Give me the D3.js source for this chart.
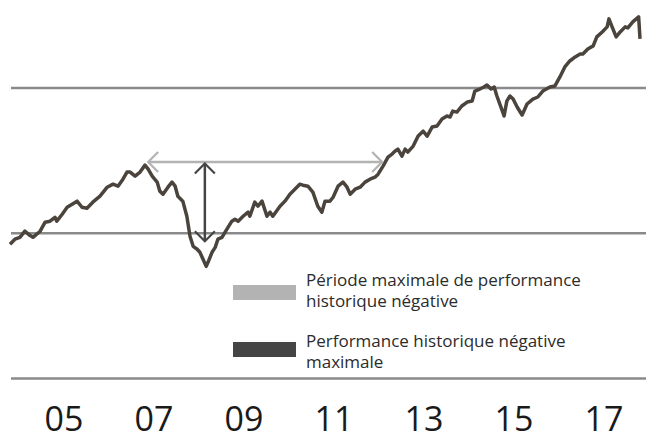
<!DOCTYPE html>
<html lang="fr">
<head>
<meta charset="utf-8">
<title>Performance historique</title>
<script src="https://d3js.org/d3.v7.min.js"></script>
<style>
  body { margin: 0; padding: 0; background: #fff; }
  svg { display: block; font-family: "Open Sans", "Noto Sans", sans-serif; }
</style>
</head>
<body>
<div id="chart"></div>
<script>
// decimal years and index values (gridlines = 100 and 200)
const years = [
  2003.80, 2003.91, 2004.02, 2004.13, 2004.24, 2004.31, 2004.47, 2004.58, 2004.69, 2004.80,
  2004.84, 2004.96, 2005.07, 2005.18, 2005.29, 2005.40, 2005.51, 2005.64, 2005.80, 2005.96,
  2006.09, 2006.20, 2006.31, 2006.40, 2006.47, 2006.58, 2006.69, 2006.80, 2006.87, 2006.96,
  2007.07, 2007.13, 2007.20, 2007.31, 2007.40, 2007.47, 2007.53, 2007.64, 2007.73, 2007.80,
  2007.87, 2007.96, 2008.02, 2008.09, 2008.16, 2008.20, 2008.29, 2008.36, 2008.42, 2008.51,
  2008.62, 2008.73, 2008.80, 2008.87, 2008.98, 2009.09, 2009.13, 2009.24, 2009.31, 2009.40,
  2009.51, 2009.58, 2009.64, 2009.80, 2009.91, 2010.02, 2010.13, 2010.24, 2010.31, 2010.42,
  2010.53, 2010.64, 2010.73, 2010.80, 2010.91, 2010.98, 2011.09, 2011.20, 2011.29, 2011.36,
  2011.47, 2011.58, 2011.69, 2011.80, 2011.91, 2011.98, 2012.09, 2012.20, 2012.29, 2012.36,
  2012.42, 2012.51, 2012.58, 2012.64, 2012.76, 2012.87, 2012.98, 2013.07, 2013.18, 2013.29,
  2013.40, 2013.51, 2013.58, 2013.64, 2013.73, 2013.84, 2013.96, 2014.07, 2014.13, 2014.24,
  2014.33, 2014.40, 2014.49, 2014.56, 2014.62, 2014.71, 2014.78, 2014.84, 2014.91, 2014.98,
  2015.07, 2015.18, 2015.29, 2015.42, 2015.53, 2015.64, 2015.80, 2015.91, 2016.02, 2016.13,
  2016.24, 2016.36, 2016.47, 2016.53, 2016.64, 2016.76, 2016.84, 2016.96, 2017.07, 2017.11,
  2017.18, 2017.27, 2017.36, 2017.47, 2017.53, 2017.64, 2017.77, 2017.80
];
const values = [
  92.4, 95.9, 97.2, 101.4, 98.6, 97.2, 101.4, 107.6, 108.3, 111.0,
  108.3, 113.1, 117.9, 120.0, 122.1, 117.9, 117.2, 121.4, 125.5, 131.7,
  133.8, 132.4, 137.2, 142.1, 142.1, 139.3, 142.1, 146.9, 144.1, 139.3,
  135.2, 129.0, 126.9, 131.7, 135.2, 132.4, 125.5, 122.1, 111.7, 97.9,
  91.0, 89.0, 86.9, 82.1, 77.2, 80.0, 86.9, 90.3, 95.9, 97.2,
  102.8, 108.3, 109.7, 108.3, 111.7, 114.5, 111.7, 121.4, 118.6, 122.1,
  111.7, 114.5, 111.7, 118.6, 122.1, 126.9, 130.3, 133.8, 133.1, 132.4,
  128.3, 118.6, 114.5, 122.1, 122.1, 124.8, 132.4, 135.2, 131.7, 126.9,
  130.3, 131.7, 135.2, 137.2, 138.6, 140.7, 146.2, 152.4, 154.5, 156.6,
  157.9, 153.1, 157.9, 155.9, 160.0, 166.9, 170.3, 166.9, 173.1, 173.8,
  178.6, 180.7, 180.0, 184.1, 183.4, 187.6, 190.3, 191.0, 197.9, 199.3,
  200.7, 202.1, 199.3, 200.7, 194.5, 186.9, 180.7, 191.0, 194.5, 192.4,
  186.9, 181.4, 189.0, 192.4, 193.8, 197.9, 200.7, 201.4, 207.6, 214.5,
  218.6, 221.4, 223.4, 223.4, 226.9, 229.0, 235.2, 238.6, 242.1, 247.6,
  242.1, 235.2, 238.6, 242.1, 241.4, 245.5, 249.0, 233.8
];

const gridValues = [0, 100, 200];
const tickYears = [2005, 2007, 2009, 2011, 2013, 2015, 2017];
const tickLabels = ["05", "07", "09", "11", "13", "15", "17"];

// longest negative period (peak -> recovery) and deepest drawdown
const periodArrow = [2006.87, 2012.07];
const periodLevel = 149;
const drawdownYear = 2008.13;
const drawdownRange = [148, 94.5];

const legendLabels = [
  ["Période maximale de performance", "historique négative"],
  ["Performance historique négative", "maximale"]
];
const legendColors = ["#b3b3b3", "#454545"];

const width = 646, height = 440;

const svg = d3.select("#chart").append("svg")
  .attr("width", width)
  .attr("height", height);

const x = d3.scaleLinear().domain([2003.8, 2017.8]).range([10, 640]);
const y = d3.scaleLinear().domain([0, 200]).range([378.5, 88]);

// gridlines (bottom one doubles as axis line)
svg.selectAll(".grid")
  .data(gridValues)
  .enter().append("line")
  .attr("class", "grid")
  .attr("x1", 11).attr("x2", width)
  .attr("y1", d => y(d)).attr("y2", d => y(d))
  .attr("stroke", "#8a8a8a")
  .attr("stroke-width", 2.5);

// year labels
svg.selectAll(".tick")
  .data(tickYears)
  .enter().append("text")
  .attr("class", "tick")
  .attr("x", d => x(d))
  .attr("y", 431)
  .attr("text-anchor", "middle")
  .attr("font-size", 34)
  .attr("fill", "#1a1a1a")
  .text((d, i) => tickLabels[i]);

// index line
const line = d3.line()
  .x(d => x(d[0]))
  .y(d => y(d[1]));

svg.append("path")
  .datum(years.map((yr, i) => [yr, values[i]]))
  .attr("d", line)
  .attr("fill", "none")
  .attr("stroke", "#4b443d")
  .attr("stroke-width", 3.5)
  .attr("stroke-linejoin", "round");

// arrows
function arrowHead(g, px, py, dir, color) {
  // dir: "left" | "right" | "up" | "down"
  const a = 10;
  let pts;
  if (dir === "left") pts = [[px + a, py - a], [px, py], [px + a, py + a]];
  if (dir === "right") pts = [[px - a, py - a], [px, py], [px - a, py + a]];
  if (dir === "up") pts = [[px - a, py + a], [px, py], [px + a, py + a]];
  if (dir === "down") pts = [[px - a, py - a], [px, py], [px + a, py - a]];
  g.append("path")
    .attr("d", d3.line()(pts))
    .attr("fill", "none")
    .attr("stroke", color)
    .attr("stroke-width", 2.2);
}

const hArrow = svg.append("g");
hArrow.append("line")
  .attr("x1", x(periodArrow[0])).attr("x2", x(periodArrow[1]))
  .attr("y1", y(periodLevel)).attr("y2", y(periodLevel))
  .attr("stroke", "#b3b3b3").attr("stroke-width", 2.5);
arrowHead(hArrow, x(periodArrow[0]), y(periodLevel), "left", "#b3b3b3");
arrowHead(hArrow, x(periodArrow[1]), y(periodLevel), "right", "#b3b3b3");

const vArrow = svg.append("g");
vArrow.append("line")
  .attr("x1", x(drawdownYear)).attr("x2", x(drawdownYear))
  .attr("y1", y(drawdownRange[0])).attr("y2", y(drawdownRange[1]))
  .attr("stroke", "#454545").attr("stroke-width", 2.5);
arrowHead(vArrow, x(drawdownYear), y(drawdownRange[0]), "up", "#454545");
arrowHead(vArrow, x(drawdownYear), y(drawdownRange[1]), "down", "#454545");

// legend: one text per entry, second line as a tspan
const legendTops = [285, 342];
const legendBaselines = [286, 347];
const lineStep = 21;

legendLabels.forEach((lines, i) => {
  svg.append("rect")
    .attr("x", 233).attr("y", legendTops[i])
    .attr("width", 63).attr("height", 15)
    .attr("fill", legendColors[i]);
  const t = svg.append("text")
    .attr("class", "legend")
    .attr("x", 306)
    .attr("y", legendBaselines[i])
    .attr("font-size", 17)
    .attr("fill", "#2b2b2b");
  lines.forEach((s, j) => {
    t.append("tspan")
      .attr("x", 306)
      .attr("dy", j === 0 ? 0 : lineStep)
      .text(s);
  });
});
</script>
</body>
</html>
